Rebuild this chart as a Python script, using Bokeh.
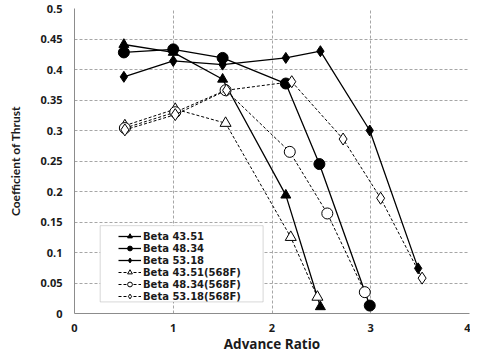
from bokeh.plotting import figure
from bokeh.models import Legend, LegendItem, FixedTicker, BoxAnnotation
from bokeh.embed import file_html
from bokeh.resources import INLINE

# ---- data ----
b4351_x = [0.50, 1.00, 1.50, 2.14, 2.49]
b4351_y = [0.441, 0.428, 0.384, 0.194, 0.011]

b4834_x = [0.50, 1.00, 1.50, 2.14, 2.48, 2.99]
b4834_y = [0.428, 0.433, 0.419, 0.377, 0.245, 0.013]

b5318_x = [0.50, 1.00, 1.50, 2.14, 2.49, 2.99, 3.48]
b5318_y = [0.388, 0.414, 0.408, 0.419, 0.430, 0.300, 0.074]

f4351_x = [0.51, 1.02, 1.53, 2.19, 2.46]
f4351_y = [0.308, 0.335, 0.312, 0.125, 0.027]

f4834_x = [0.51, 1.02, 1.53, 2.18, 2.56, 2.94]
f4834_y = [0.304, 0.330, 0.366, 0.265, 0.164, 0.035]

f5318_x = [0.51, 1.02, 1.54, 2.20, 2.72, 3.10, 3.52]
f5318_y = [0.301, 0.326, 0.366, 0.380, 0.286, 0.189, 0.058]

series_labels = ["Beta 43.51", "Beta 48.34", "Beta 53.18",
                 "Beta 43.51(568F)", "Beta 48.34(568F)", "Beta 53.18(568F)"]

x_ticks = [0, 1, 2, 3, 4]
x_tick_labels = ["0", "1", "2", "3", "4"]
y_ticks = [0, 0.05, 0.1, 0.15, 0.2, 0.25, 0.3, 0.35, 0.4, 0.45, 0.5]
y_tick_labels = ["0", "0.05", "0.1", "0.15", "0.2", "0.25", "0.3", "0.35", "0.4", "0.45", "0.5"]

x_title = "Advance Ratio"
y_title = "Coefficient of Thrust"

# ---- figure ----
p = figure(width=470, height=355, x_range=(0, 4), y_range=(0, 0.5),
           output_backend="svg", toolbar_location=None,
           min_border_left=74, min_border_right=1, min_border_top=8, min_border_bottom=40)
p.outline_line_color = None
p.background_fill_color = "white"
p.border_fill_color = "white"

for ax in (p.xaxis[0], p.yaxis[0]):
    ax.axis_line_color = "#8c8c8c"
    ax.axis_line_width = 1
    ax.major_tick_line_color = None
    ax.minor_tick_line_color = None
    ax.major_tick_out = 0
    ax.major_tick_in = 0
    ax.major_label_text_font = "Open Sans"
    ax.major_label_text_font_style = "bold"
    ax.major_label_text_font_size = "11px"
    ax.major_label_text_color = "#1a1a1a"
    ax.axis_label_text_font_style = "bold"
    ax.axis_label_text_color = "#1a1a1a"

p.xaxis.ticker = FixedTicker(ticks=x_ticks)
p.yaxis.ticker = FixedTicker(ticks=y_ticks)
p.xaxis.major_label_overrides = {t: s for t, s in zip(x_ticks, x_tick_labels)}
p.yaxis.major_label_overrides = {t: s for t, s in zip(y_ticks, y_tick_labels)}
p.xaxis.major_label_standoff = 10
p.yaxis.major_label_standoff = 12

p.xaxis.axis_label = x_title
p.xaxis.axis_label_text_font = "Open Sans"
p.xaxis.axis_label_text_font_size = "13.5px"
p.xaxis.axis_label_standoff = 0

p.yaxis.axis_label = y_title
p.yaxis.axis_label_text_font = "Lato"
p.yaxis.axis_label_text_font_size = "12px"
p.yaxis.axis_label_standoff = 14

for g in (p.xgrid[0], p.ygrid[0]):
    g.grid_line_color = "#a6a6a6"
    g.grid_line_dash = "3 2"
    g.grid_line_width = 1
p.xgrid.ticker = FixedTicker(ticks=x_ticks)
p.ygrid.ticker = FixedTicker(ticks=y_ticks)

solid = dict(line_color="black", line_width=1.3)
dashed = dict(line_color="black", line_width=1, line_dash="3 2")

series = [
    (b4351_x, b4351_y, "triangle", 10, "black", solid),
    (b4834_x, b4834_y, "circle", 11, "black", solid),
    (b5318_x, b5318_y, "diamond", 11, "black", solid),
    (f4351_x, f4351_y, "triangle", 11, "white", dashed),
    (f4834_x, f4834_y, "circle", 11, "white", dashed),
    (f5318_x, f5318_y, "diamond", 12, "white", dashed),
]
legend_marker_size = [8, 8, 8, 8, 8, 9]

items = []
for (xs, ys, mk, sz, fc, ls), lab, lsz in zip(series, series_labels, legend_marker_size):
    lr = p.line(xs, ys, **ls)
    p.scatter(xs, ys, marker=mk, size=sz, fill_color=fc, line_color="black", line_width=1)
    # smaller swatch marker, used only by the legend (hidden on the plot)
    sw = p.scatter(xs, ys, marker=mk, size=lsz, fill_color=fc, line_color="black", line_width=1)
    sw.visible = False
    items.append(LegendItem(label=lab, renderers=[lr, sw]))

box = BoxAnnotation(left=0.26, right=1.91, bottom=0.019, top=0.144,
                    fill_color="white", fill_alpha=1.0,
                    line_color="#7f7f7f", line_width=1)
p.add_layout(box)

legend = Legend(items=items, location=(44, 11), orientation="vertical",
                glyph_width=23, glyph_height=12, label_height=12, spacing=0,
                padding=2, margin=0, label_standoff=2,
                label_text_font="DejaVu Sans", label_text_font_style="bold",
                label_text_font_size="10px", label_text_color="#1a1a1a",
                inactive_fill_alpha=0,
                border_line_color=None, background_fill_alpha=0)
p.add_layout(legend, "center")

open("out.html", "w").write(file_html(p, INLINE))
